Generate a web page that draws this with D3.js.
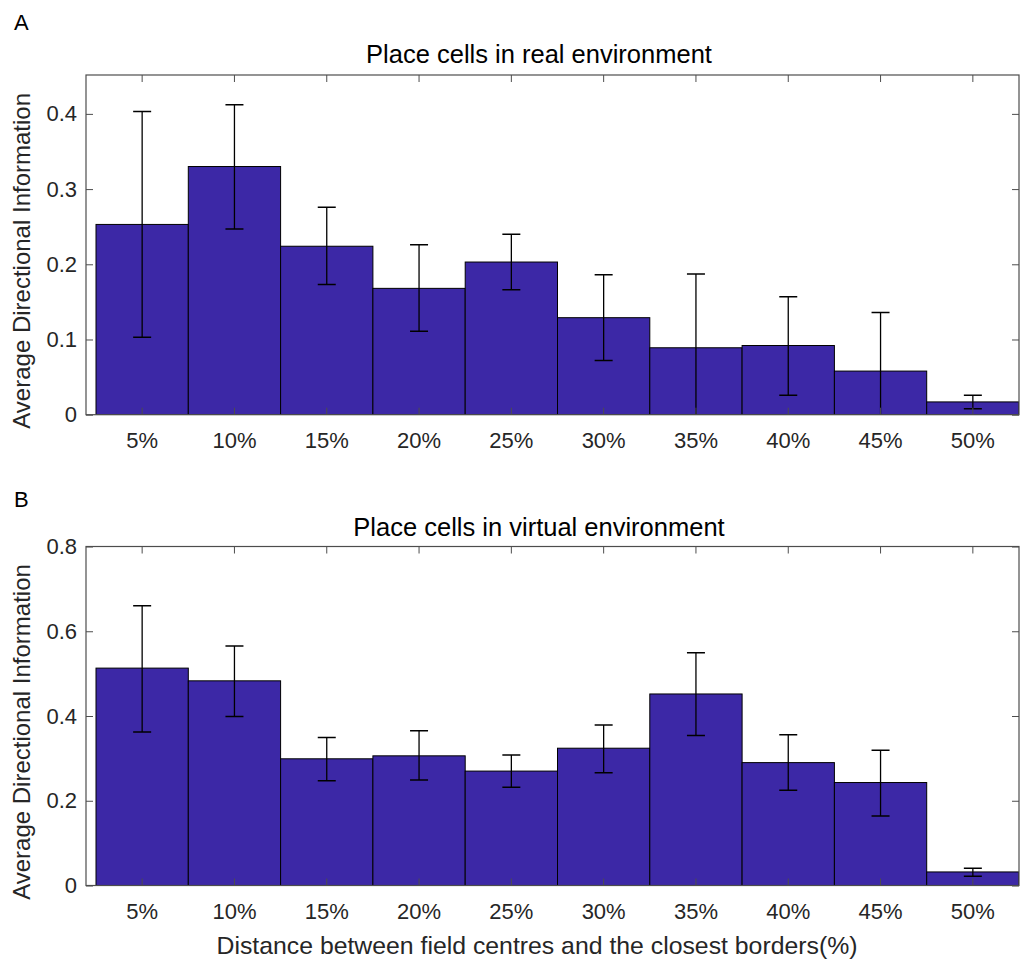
<!DOCTYPE html>
<html><head><meta charset="utf-8">
<script src="https://cdn.jsdelivr.net/npm/d3@7"></script>
<style>body{margin:0;background:#fff;} svg{display:block;font-family:"Liberation Sans",Arial,sans-serif;}</style>
</head><body>
<svg id="chart" width="1021" height="962"></svg>
<script>
const categories = ["5%","10%","15%","20%","25%","30%","35%","40%","45%","50%"];
const realMean  = [0.253,0.330,0.224,0.168,0.203,0.129,0.089,0.092,0.058,0.017];
const realUpper = [0.403,0.412,0.276,0.226,0.240,0.186,0.187,0.157,0.136,0.026];
const realLower = [0.103,0.247,0.173,0.111,0.166,0.072,-0.01,0.026,-0.02,0.008];
const virtMean  = [0.513,0.483,0.299,0.306,0.270,0.324,0.452,0.290,0.243,0.032];
const virtUpper = [0.660,0.565,0.349,0.365,0.308,0.379,0.549,0.356,0.319,0.041];
const virtLower = [0.362,0.399,0.247,0.249,0.232,0.266,0.354,0.225,0.164,0.022];
const realTicks = [0,0.1,0.2,0.3,0.4];
const virtTicks = [0,0.2,0.4,0.6,0.8];

const svg = d3.select("#chart");
const left = 86, right = 1019, barStart = 96;
const x = d3.scaleBand().domain(categories).range([barStart, right]).padding(0);
const axisColor = "#4d4d4d", textColor = "#262626", barColor = "#3c28a6";

function panel(opt){
  const {top, bottom, ymax, ticks, mean, upper, lower, title, letter, letterY, titleY, id} = opt;
  const y = d3.scaleLinear().domain([0, ymax]).range([bottom, top]);
  const g = svg.append("g");
  g.append("clipPath").attr("id", id).append("rect")
    .attr("x", left).attr("y", top).attr("width", right-left).attr("height", bottom-top);
  const data = categories.map((c,i)=>({c, m:mean[i], u:upper[i], l:lower[i]}));
  const plot = g.append("g").attr("clip-path", `url(#${id})`);
  plot.selectAll("rect.bar").data(data).join("rect").attr("class","bar")
    .attr("x", d=>x(d.c)).attr("width", x.bandwidth())
    .attr("y", d=>y(d.m)).attr("height", d=>y(0)-y(d.m))
    .attr("fill", barColor).attr("stroke", "#000").attr("stroke-width", 1);
  const cx = d=>x(d.c)+x.bandwidth()/2, cap = 9;
  plot.selectAll("line.ev").data(data).join("line")
    .attr("x1",cx).attr("x2",cx).attr("y1",d=>y(d.u)).attr("y2",d=>y(d.l))
    .attr("stroke","#000").attr("stroke-width",1.3);
  plot.selectAll("line.ct").data(data).join("line")
    .attr("x1",d=>cx(d)-cap).attr("x2",d=>cx(d)+cap).attr("y1",d=>y(d.u)).attr("y2",d=>y(d.u))
    .attr("stroke","#000").attr("stroke-width",1.5);
  plot.selectAll("line.cb").data(data).join("line")
    .attr("x1",d=>cx(d)-cap).attr("x2",d=>cx(d)+cap).attr("y1",d=>y(d.l)).attr("y2",d=>y(d.l))
    .attr("stroke","#000").attr("stroke-width",1.5);

  const tl = 7;
  const yAxis = d3.axisLeft(y).tickValues(ticks).tickSize(-tl).tickPadding(9)
    .tickFormat(d=> d===0 ? "0" : d3.format(".1f")(d));
  const ya = g.append("g").attr("transform",`translate(${left},0)`).call(yAxis);
  const xAxis = d3.axisBottom(x).tickSize(-tl).tickPadding(18);
  const xa = g.append("g").attr("transform",`translate(0,${bottom})`).call(xAxis);
  [ya, xa].forEach(a=>{
    a.select(".domain").remove();
    a.selectAll(".tick line").attr("stroke", axisColor);
    a.selectAll(".tick text").attr("fill", textColor).style("font-size","22px").style("font-family",'"Liberation Sans",Arial,sans-serif');
  });
  g.append("g").attr("transform",`translate(0,${top})`)
    .call(d3.axisTop(x).tickSize(-tl).tickFormat(""))
    .call(a=>{a.select(".domain").remove(); a.selectAll(".tick line").attr("stroke",axisColor);});
  g.append("g").attr("transform",`translate(${right},0)`)
    .call(d3.axisRight(y).tickValues(ticks).tickSize(-tl).tickFormat(""))
    .call(a=>{a.select(".domain").remove(); a.selectAll(".tick line").attr("stroke",axisColor);});
  g.append("rect").attr("x",left).attr("y",top).attr("width",right-left).attr("height",bottom-top)
    .attr("fill","none").attr("stroke",axisColor).attr("stroke-width",1.2);
  g.append("text").attr("x",539).attr("y",titleY).attr("text-anchor","middle")
    .attr("fill","#000").style("font-size","25.5px").text(title);
  g.append("text").attr("x",14).attr("y",letterY).attr("fill","#000").style("font-size","22px").text(letter);
  g.append("text").attr("transform",`translate(30,${(top+bottom)/2+16}) rotate(-90)`).attr("text-anchor","middle")
    .attr("fill",textColor).style("font-size","24px").text("Average Directional Information");
}

panel({id:"cA", top:75, bottom:414.7, ymax:0.4517, ticks:realTicks, mean:realMean, upper:realUpper, lower:realLower,
  title:"Place cells in real environment", letter:"A", letterY:30, titleY:63});
panel({id:"cB", top:546.5, bottom:885.5, ymax:0.8, ticks:virtTicks, mean:virtMean, upper:virtUpper, lower:virtLower,
  title:"Place cells in virtual environment", letter:"B", letterY:507, titleY:536});

svg.append("text").attr("x",537).attr("y",954).attr("text-anchor","middle").attr("fill",textColor)
  .style("font-size","24.8px").text("Distance between field centres and the closest borders(%)");
</script>
</body></html>
